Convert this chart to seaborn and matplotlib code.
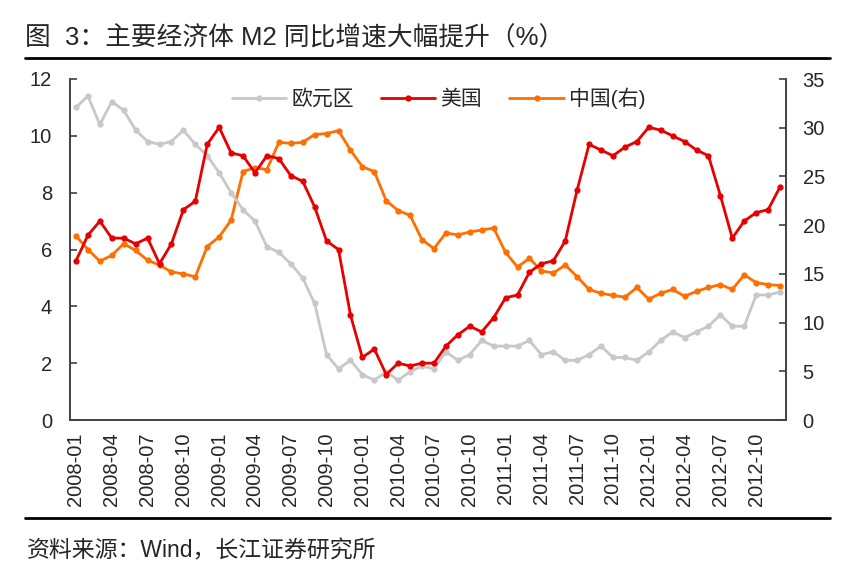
import numpy as np
import pandas as pd
import seaborn as sns
import matplotlib.pyplot as plt
from matplotlib.lines import Line2D

months = pd.period_range('2008-01', '2012-12', freq='M').strftime('%Y-%m').tolist()

euro = [11.0, 11.4, 10.4, 11.2, 10.9, 10.2, 9.8, 9.7, 9.8, 10.2, 9.7, 9.3,
        8.7, 8.0, 7.4, 7.0, 6.1, 5.9, 5.5, 5.0, 4.1, 2.3, 1.8, 2.1,
        1.6, 1.4, 1.7, 1.4, 1.7, 1.9, 1.8, 2.4, 2.1, 2.3, 2.8, 2.6,
        2.6, 2.6, 2.8, 2.3, 2.4, 2.1, 2.1, 2.3, 2.6, 2.2, 2.2, 2.1,
        2.4, 2.8, 3.1, 2.9, 3.1, 3.3, 3.7, 3.3, 3.3, 4.4, 4.4, 4.5]

us = [5.6, 6.5, 7.0, 6.4, 6.4, 6.2, 6.4, 5.5, 6.2, 7.4, 7.7, 9.7,
      10.3, 9.4, 9.3, 8.7, 9.3, 9.2, 8.6, 8.4, 7.5, 6.3, 6.0, 3.7,
      2.2, 2.5, 1.6, 2.0, 1.9, 2.0, 2.0, 2.6, 3.0, 3.3, 3.1, 3.6,
      4.3, 4.4, 5.2, 5.5, 5.6, 6.3, 8.1, 9.7, 9.5, 9.3, 9.6, 9.8,
      10.3, 10.2, 10.0, 9.8, 9.5, 9.3, 7.9, 6.4, 7.0, 7.3, 7.4, 8.2]

china = [18.9, 17.5, 16.3, 16.9, 18.1, 17.4, 16.4, 15.9, 15.2, 15.0, 14.7, 17.8,
         18.8, 20.5, 25.5, 25.9, 25.7, 28.5, 28.4, 28.5, 29.3, 29.4, 29.7, 27.7,
         26.0, 25.5, 22.5, 21.5, 21.0, 18.5, 17.6, 19.2, 19.0, 19.3, 19.5, 19.7,
         17.2, 15.7, 16.6, 15.3, 15.1, 15.9, 14.7, 13.4, 13.0, 12.8, 12.6, 13.6,
         12.4, 13.0, 13.4, 12.7, 13.2, 13.6, 13.9, 13.4, 14.9, 14.1, 13.9, 13.8]

df = pd.DataFrame({'idx': np.arange(len(months)), 'month': months,
                   '欧元区': euro, '美国': us, '中国(右)': china})

sns.set_style('white')
plt.rcParams['font.family'] = ['Liberation Sans', 'Noto Sans CJK SC', 'DejaVu Sans']

grey = '#c8c8c8'
red = '#e60000'
orange = '#ff6f00'

fig = plt.figure(figsize=(8.5, 5.85), dpi=100)
ax = fig.add_axes([70 / 850, 1 - 420 / 585, 716 / 850, 341 / 585])
ax2 = ax.twinx()

line_kw = dict(linewidth=2.0, marker='o', markersize=4.5, markeredgewidth=0)
sns.lineplot(data=df, x='idx', y='欧元区', ax=ax, color=grey, **line_kw)
sns.lineplot(data=df, x='idx', y='美国', ax=ax, color=red, **line_kw)
sns.lineplot(data=df, x='idx', y='中国(右)', ax=ax2, color=orange, **line_kw)

# left axes drawn above the right one
ax.set_zorder(ax2.get_zorder() + 1)
ax.patch.set_visible(False)

ax.set_xlim(-0.5, len(months) - 0.5)
ax.set_ylim(0, 12)
ax.set_yticks(range(0, 13, 2))
ax2.set_ylim(0, 35)
ax2.set_yticks(range(0, 36, 5))

ax.set_xticks(range(0, len(months), 3))
ax.set_xticklabels(months[::3], rotation=90)
ax.set_xticks(np.arange(-0.5, len(months), 3), minor=True)
ax.tick_params(axis='x', which='major', length=0, pad=9, labelsize=14.5)
ax.tick_params(axis='x', which='minor', direction='in', length=5, width=1.2, color='#404040')
ax.tick_params(axis='y', direction='in', length=5, width=1.2, color='#404040', pad=13, labelsize=14.5, left=True)
ax2.tick_params(axis='y', direction='in', length=5, width=1.2, color='#404040', pad=12, labelsize=14.5, right=True)

ax.set_xlabel('')
ax.set_ylabel('')
ax2.set_ylabel('')
for a in (ax, ax2):
    a.spines['top'].set_visible(False)
    for s in ('left', 'right', 'bottom'):
        a.spines[s].set_color('#404040')
        a.spines[s].set_linewidth(1.2)

handles = [Line2D([], [], color=c, linewidth=2.0, marker='o', markersize=4.5, markeredgewidth=0)
           for c in (grey, red, orange)]
ax.legend(handles, ['欧元区', '美国', '中国(右)'], loc='upper center',
          bbox_to_anchor=(0.515, 1.03), ncol=3, frameon=False, fontsize=15,
          handlelength=2.6, columnspacing=1.3, handletextpad=0.25)

fig.text(25 / 850, 1 - 38 / 585, '图  3：主要经济体 M2 同比增速大幅提升（%）',
         fontsize=18.5, va='center', ha='left')
fig.add_artist(Line2D([25 / 850, 830 / 850], [1 - 58 / 585] * 2, color='black', linewidth=2))
fig.add_artist(Line2D([25 / 850, 830 / 850], [1 - 518 / 585] * 2, color='black', linewidth=2))
fig.text(27 / 850, 1 - 551 / 585, '资料来源：Wind，长江证券研究所',
         fontsize=16.5, va='center', ha='left')

fig.savefig('out.png', dpi=100)
